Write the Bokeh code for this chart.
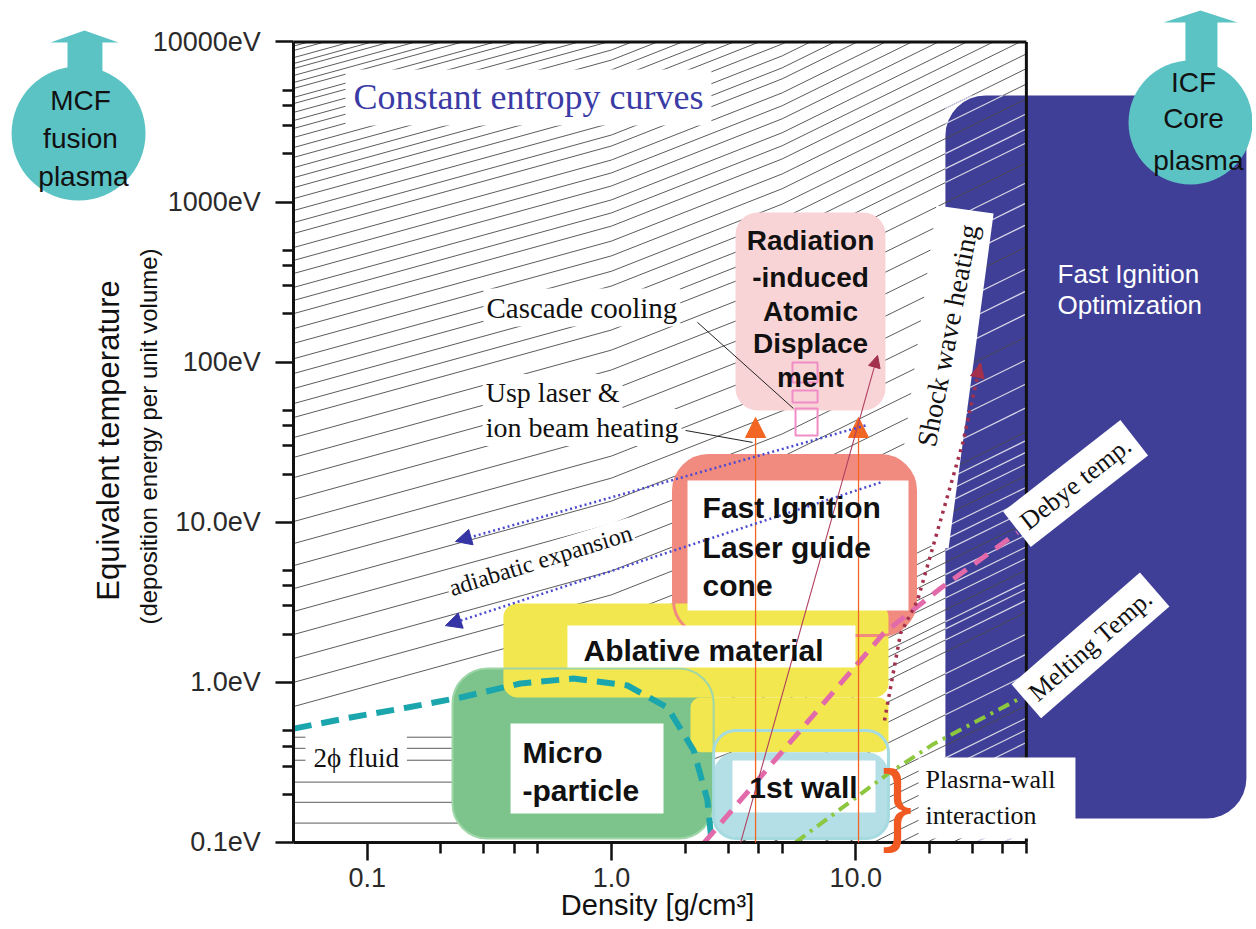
import math
from bokeh.plotting import figure
from bokeh.models import FixedTicker, Label, Arrow, NormalHead, Range1d
from bokeh.embed import file_html
from bokeh.resources import INLINE

# ---------------- data (density in g/cm^3, temperature in eV) ----------------
density_major = [0.1, 1.0, 10.0]
density_minor = [0.2, 0.3, 0.4, 0.5, 2.0, 3.0, 4.0, 5.0, 20.0, 30.0, 40.0, 50.0]
density_tick_labels = ["0.1", "1.0", "10.0"]
temp_major = [0.1, 1.0, 10.0, 100.0, 1000.0, 10000.0]
temp_minor = [0.2, 0.3, 0.4, 0.5, 2.0, 3.0, 4.0, 5.0, 20.0, 30.0, 40.0, 50.0,
              200.0, 300.0, 400.0, 500.0, 2000.0, 3000.0, 4000.0, 5000.0]
temp_tick_labels = ["0.1eV", "1.0eV", "10.0eV", "100eV", "1000eV", "10000eV"]
density_bounds = (0.05, 50.0)
temp_bounds = (0.1, 10000.0)

# constant entropy curves: temperature where each curve meets the left edge (0.05 g/cc)
entropy_T_left = [9420, 8840, 7980, 7330, 6820, 6170, 5580, 5120, 4500, 4120, 3630, 3230,
                  2880, 2530, 2190, 1900, 1640, 1420, 1230, 1050, 885, 745, 636, 520, 432,
                  358, 293, 243, 201, 162, 131, 105, 84.9, 68.4, 55.1, 45.1, 33.8, 25.4,
                  19.0, 13.9, 10.1, 7.36, 5.36, 3.85, 2.77, 1.99, 1.41, 1.00, 0.706]
# curves that are flat inside the two-phase dome
entropy_T_two_phase = [0.454, 0.387, 0.326, 0.238, 0.178, 0.132, 0.085, 0.071,
                       0.060, 0.050, 0.042, 0.035, 0.029, 0.024, 0.020, 0.017, 0.014]
# curves leaving the liquid side (temperature at 1.2 g/cc)
entropy_T_liquid = [0.32, 0.38, 0.45, 0.53, 0.63, 0.75, 0.89, 1.05, 1.25, 1.48, 1.75, 2.07, 2.45]
entropy_slopes = [0.42, 0.60, 0.75]
entropy_rho_breaks = [1.0, 5.0]
two_phase_rho_edge = 2.55
liquid_rho_start = 1.2

# regime boxes: (rho_left, rho_right, T_bottom, T_top)
core_region = (23.3, 398.0, 0.141, 4625.0)
radiation_region = (3.22, 13.24, 49.9, 860.0)
cone_region = (1.794, 17.58, 1.96, 26.1)
cone_window = (2.048, 16.45, 2.81, 18.2)
micro_region = (0.2233, 2.62, 0.1058, 1.22)
ablative_main = (0.361, 13.62, 0.804, 3.11)
ablative_side = (2.106, 13.62, 0.366, 0.804)
wall_outline = (2.62, 13.62, 0.1058, 0.500)
wall_fill = (2.62, 13.62, 0.1058, 0.366)
ablative_window = (0.660, 9.98, 1.237, 2.26)
micro_window = (0.386, 1.633, 0.1516, 0.553)
wall_window = (3.13, 12.05, 0.1537, 0.325)
plasma_wall_window = (18.1, 79.4, 0.1058, 0.339)
cascade_boxes = [(5.51, 6.98, 74.6, 99.4), (5.51, 6.98, 55.9, 66.5), (5.67, 6.98, 34.8, 51.3)]
shock_window_rho = [21.4, 36.7, 24.0, 14.0]
shock_window_T = [951.0, 848.0, 6.85, 7.69]

# boundary curves
two_phase_rho = [0.05, 0.0853, 0.146, 0.241, 0.424, 0.699, 1.163, 1.696, 2.17, 2.47, 2.57]
two_phase_T = [0.514, 0.603, 0.696, 0.804, 0.983, 1.056, 0.955, 0.696, 0.375, 0.184, 0.1]
debye_rho = [2.40, 13.0, 22.2, 46.0]
debye_T = [0.1, 2.02, 3.85, 8.62]
melting_rho = [5.67, 13.5, 20.8, 47.3]
melting_T = [0.1, 0.267, 0.411, 0.797]
shock_rho = [13.12, 15.26, 17.91, 27.4, 32.4]
shock_T = [0.577, 2.02, 3.24, 31.0, 98.0]
adiabat_upper_rho = [10.97, 0.2297]
adiabat_upper_T = [40.2, 7.58]
adiabat_lower_rho = [12.63, 0.209]
adiabat_lower_T = [17.7, 2.26]
laser_rho = [3.89, 10.27]
laser_T = [0.1, 45.1]
cascade_rho = [3.38, 12.29]
cascade_T = [0.1, 110.0]
cascade_leader_rho = [2.25, 5.56]
cascade_leader_T = [177.0, 51.3]
ion_leader_rho = [2.01, 3.78]
ion_leader_T = [37.4, 31.5]
mcf_arrow_rho = [0.00592, 0.00592, 0.00504, 0.00695, 0.00958, 0.00823, 0.00823]
mcf_arrow_T = [5740, 9910, 9910, 11780, 9910, 9910, 5740]
icf_arrow_rho = [224, 224, 182.2, 258, 366, 303, 303]
icf_arrow_T = [6630, 13200, 13200, 15700, 13200, 13200, 6630]
bulb_rho = [0.00657, 235.0]
bulb_T = [2679.0, 3138.0]

# ---------------- figure ----------------
W, H = 1252, 925
X_ONE, X_DEC = 611.0, 244.2      # canvas pixel of 1 g/cc, pixels per decade
Y_ONE, Y_DEC = 681.8, 160.1      # canvas pixel of 1 eV, pixels per decade
p = figure(width=W, height=H, x_axis_type="log", y_axis_type="log",
           x_range=Range1d(10 ** (-X_ONE / X_DEC), 10 ** ((W - X_ONE) / X_DEC)),
           y_range=Range1d(10 ** ((Y_ONE - H) / Y_DEC), 10 ** (Y_ONE / Y_DEC)),
           output_backend="svg", toolbar_location=None, min_border=0)
p.outline_line_color = None
p.xgrid.visible = False
p.ygrid.visible = False
p.background_fill_color = "white"
p.border_fill_color = "white"

SANS = "Liberation Sans"
SERIF = "Liberation Serif"

xa = p.xaxis[0]
ya = p.yaxis[0]
xa.fixed_location = temp_bounds[0]
ya.fixed_location = density_bounds[0]
xa.bounds = density_bounds
ya.bounds = temp_bounds
xa.ticker = FixedTicker(ticks=density_major, minor_ticks=density_minor)
ya.ticker = FixedTicker(ticks=temp_major, minor_ticks=temp_minor)
xa.major_label_overrides = {v: s for v, s in zip(density_major, density_tick_labels)}
ya.major_label_overrides = {v: s for v, s in zip(temp_major, temp_tick_labels)}
for ax, stand in ((xa, 8), (ya, 15)):
    ax.axis_line_width = 3
    ax.axis_line_color = "#111111"
    ax.major_tick_out = 18
    ax.major_tick_in = 0
    ax.minor_tick_out = 11
    ax.minor_tick_in = 0
    ax.major_tick_line_width = 2.5
    ax.minor_tick_line_width = 2.5
    ax.major_tick_line_color = "#111111"
    ax.minor_tick_line_color = "#111111"
    ax.major_label_text_font = SANS
    ax.major_label_text_font_size = "27px"
    ax.major_label_text_color = "#2a2a2a"
    ax.major_label_standoff = stand


def box(r, **kw):
    p.quad(left=[r[0]], right=[r[1]], bottom=[r[2]], top=[r[3]], **kw)


def rise(r0, r1):
    edges = [1e-9] + entropy_rho_breaks + [1e9]
    tot = 0.0
    for k, s in enumerate(entropy_slopes):
        lo, hi = max(r0, edges[k]), min(r1, edges[k + 1])
        if hi > lo:
            tot += s * (math.log10(hi) - math.log10(lo))
    return tot


def clip(xs, ys, x0, x1, y0, y1):
    L = math.log10
    pts = [(L(a), L(b)) for a, b in zip(xs, ys)]
    bx0, bx1, by0, by1 = L(x0), L(x1), L(y0), L(y1)
    pieces, cur = [], []
    for (ax_, ay_), (bx_, by_) in zip(pts[:-1], pts[1:]):
        t0, t1 = 0.0, 1.0
        dx, dy = bx_ - ax_, by_ - ay_
        ok = True
        for pp, qq in ((-dx, ax_ - bx0), (dx, bx1 - ax_), (-dy, ay_ - by0), (dy, by1 - ay_)):
            if pp == 0:
                if qq < 0:
                    ok = False
                    break
            else:
                r = qq / pp
                if pp < 0:
                    t0 = max(t0, r)
                else:
                    t1 = min(t1, r)
        if not ok or t0 > t1:
            if cur:
                pieces.append(cur)
                cur = []
            continue
        s = (ax_ + t0 * dx, ay_ + t0 * dy)
        e = (ax_ + t1 * dx, ay_ + t1 * dy)
        if cur and abs(cur[-1][0] - s[0]) < 1e-9 and abs(cur[-1][1] - s[1]) < 1e-9:
            cur.append(e)
        else:
            if cur:
                pieces.append(cur)
            cur = [s, e]
    if cur:
        pieces.append(cur)
    return [([10 ** q[0] for q in pc], [10 ** q[1] for q in pc]) for pc in pieces]


# isentropes
curves = []
for T0 in entropy_T_left:
    rr = [density_bounds[0], entropy_rho_breaks[0], entropy_rho_breaks[1], density_bounds[1]]
    curves.append((rr, [T0 * 10 ** rise(rr[0], r) for r in rr]))
for T0 in entropy_T_two_phase:
    rr = [density_bounds[0], two_phase_rho_edge, entropy_rho_breaks[1], density_bounds[1]]
    curves.append((rr, [T0, T0] + [T0 * 10 ** rise(two_phase_rho_edge, r) for r in rr[2:]]))
for T0 in entropy_T_liquid:
    rr = [liquid_rho_start, entropy_rho_breaks[1], density_bounds[1]]
    curves.append((rr, [T0 * 10 ** rise(liquid_rho_start, r) for r in rr]))
curves.sort(key=lambda c: -c[1][-1])

ent_x, ent_y, wh_x, wh_y = [], [], [], []
for k, (rr, tt) in enumerate(curves):
    for cx, cy in clip(rr, tt, density_bounds[0], density_bounds[1], temp_bounds[0], temp_bounds[1]):
        ent_x.append(cx)
        ent_y.append(cy)
    if k % 4 != 0:
        for cx, cy in clip(rr, tt, core_region[0], density_bounds[1], temp_bounds[0], core_region[3]):
            wh_x.append(cx)
            wh_y.append(cy)

# ---------------- drawing ----------------
BLUE = "#403f98"
TEAL = "#5cc3c5"
box(core_region, fill_color=BLUE, line_color=None, border_radius=40)
p.multi_line(ent_x, ent_y, line_color="#4a4a4a", line_width=0.9)
p.multi_line(wh_x, wh_y, line_color="#d6d6f0", line_width=1.2)
p.line([density_bounds[0], density_bounds[1]], [temp_bounds[1], temp_bounds[1]], line_color="#111111", line_width=3)
p.line([density_bounds[1], density_bounds[1]], [temp_bounds[0], temp_bounds[1]], line_color="#111111", line_width=3)
p.patch(shock_window_rho, shock_window_T, fill_color="white", line_color=None)

box(radiation_region, fill_color="#f9d4d7", line_color=None, border_radius=22)
box(cone_region, fill_color="#f18b80", line_color=None, border_radius=35)
box(micro_region, fill_color="#7cc48b", line_color=None, border_radius=35)
box(ablative_main, fill_color="#f2e74e", line_color=None, border_radius=14)
box(ablative_side, fill_color="#f2e74e", line_color=None, border_radius=10)
box(cone_window, fill_color="white", line_color=None)
box(wall_fill, fill_color="#b4dfe6", line_color=None, border_radius=22)
box(cone_region, fill_color=None, line_color="#f18b80", line_width=3, border_radius=35)
box(micro_region, fill_color=None, line_color="#9ed6a8", line_width=2, border_radius=35)
box(wall_outline, fill_color=None, line_color="#a5dbe0", line_width=3, border_radius=22)
box(ablative_window, fill_color="white", line_color=None)
box(micro_window, fill_color="white", line_color=None)
box(wall_window, fill_color="white", line_color=None)
for cb in cascade_boxes:
    box(cb, fill_color=None, line_color="#f08cc6", line_width=2)
box(plasma_wall_window, fill_color="white", line_color=None)

p.line(two_phase_rho, two_phase_T, line_color="#1ba6ad", line_width=6, line_dash="18 10")
p.line(debye_rho, debye_T, line_color="#e36aaa", line_width=5, line_dash="16 10")
p.line(melting_rho, melting_T, line_color="#8dc63f", line_width=4, line_dash="12 6 3 6")
p.line(shock_rho, shock_T, line_color="#a3304c", line_width=3.5, line_dash="3 5")
p.line(cascade_leader_rho, cascade_leader_T, line_color="#222222", line_width=1)
p.line(ion_leader_rho, ion_leader_T, line_color="#222222", line_width=1)

# bulbs
p.patch(mcf_arrow_rho, mcf_arrow_T, fill_color=TEAL, line_color=None)
p.patch(icf_arrow_rho, icf_arrow_T, fill_color=TEAL, line_color=None)
p.scatter(bulb_rho[:1], bulb_T[:1], size=134, marker="circle", fill_color=TEAL, line_color=None)
p.scatter(bulb_rho[1:], bulb_T[1:], size=124, marker="circle", fill_color=TEAL, line_color=None)

# arrows
for rx in laser_rho:
    p.add_layout(Arrow(end=NormalHead(size=20, fill_color="#f26522", line_color="#f26522"),
                       x_start=rx, y_start=laser_T[0], x_end=rx, y_end=laser_T[1],
                       line_color="#f26522", line_width=1.3))
p.add_layout(Arrow(end=NormalHead(size=12, fill_color="#a3304c", line_color="#a3304c"),
                   x_start=cascade_rho[0], y_start=cascade_T[0], x_end=cascade_rho[1], y_end=cascade_T[1],
                   line_color="#b04060", line_width=1.1))
p.add_layout(Arrow(end=NormalHead(size=14, fill_color="#a3304c", line_color="#a3304c"),
                   x_start=shock_rho[-2], y_start=shock_T[-2], x_end=shock_rho[-1], y_end=shock_T[-1],
                   line_alpha=0))
for rr, tt in ((adiabat_upper_rho, adiabat_upper_T), (adiabat_lower_rho, adiabat_lower_T)):
    p.add_layout(Arrow(end=NormalHead(size=16, fill_color="#3434a4", line_color="#3434a4"),
                       x_start=rr[0], y_start=tt[0], x_end=rr[1], y_end=tt[1],
                       line_color="#4a4ad0", line_width=2.5, line_dash="2 3"))


def lab(x, y, text, size, font=SANS, style="normal", color="#111111", align="left",
        baseline="middle", angle=0.0, bg=None, pad=0):
    kw = dict(x=x, y=y, text=text, text_font=font, text_font_size=f"{size}px",
              text_font_style=style, text_color=color, text_align=align,
              text_baseline=baseline, angle=angle)
    if bg:
        kw.update(background_fill_color=bg, padding=pad)
    p.add_layout(Label(**kw))


# axis titles
lab(0.00871, 32.4, "Equivalent temperature", 31, align="center", angle=math.pi / 2)
lab(0.0127, 34.3, "(deposition energy per unit volume)", 24, align="center", angle=math.pi / 2)
lab(1.543, 0.0404, "Density [g/cm³]", 29, align="center")

# annotations
lab(0.0814, 4497, "Constant entropy curves", 36, font=SERIF, color="#3b3ba6", bg="white", pad=8)
lab(0.299, 219, "Cascade cooling", 29, font=SERIF, bg="white", pad=3)
lab(0.297, 64.6, "Usp laser &", 28, font=SERIF, bg="white", pad=3)
lab(0.297, 39.0, "ion beam heating", 28, font=SERIF, bg="white", pad=3)
lab(0.512, 5.77, "adiabatic expansion", 24, font=SERIF, align="center", angle=0.30, bg="white", pad=2)
lab(0.0558, 0.339, "2ϕ fluid", 27, font=SERIF, bg="white", pad=8)
for t, ty in zip(["Radiation", "-induced", "Atomic", "Displace", "ment"], [574, 337, 207, 131, 80.1]):
    lab(6.53, ty, t, 28, style="bold", align="center")
for t, ty in zip(["Fast Ignition", "Laser guide", "cone"], [12.35, 6.94, 4.02]):
    lab(2.36, ty, t, 30, style="bold")
lab(0.768, 1.58, "Ablative material", 30, style="bold")
lab(0.432, 0.366, "Micro", 30, style="bold")
lab(0.432, 0.211, "-particle", 30, style="bold")
lab(6.11, 0.220, "1st wall", 30, style="bold", align="center")
lab(23.8, 146.6, "Shock wave heating", 28, font=SERIF, align="center", angle=1.38)
lab(79.5, 17.45, "Debye temp.", 26, font=SERIF, align="center", angle=0.663, bg="white", pad=8)
lab(91.5, 1.70, "Melting Temp.", 26, font=SERIF, align="center", angle=0.716, bg="white", pad=8)
lab(19.3, 0.247, "Plasrna-wall", 26, font=SERIF)
lab(19.3, 0.147, "interaction", 26, font=SERIF)
lab(14.8, 0.176, "}", 90, color="#f05a22", align="center")
lab(67.1, 357.6, "Fast Ignition", 26, color="white")
lab(67.1, 225.7, "Optimization", 26, color="white")
lab(0.00669, 4301, "MCF", 28, align="center")
lab(0.00669, 2493, "fusion", 28, align="center")
lab(0.00688, 1443, "plasma", 28, align="center")
lab(241.7, 5577, "ICF", 28, align="center")
lab(241.7, 3322, "Core", 28, align="center")
lab(253.0, 1816, "plasma", 28, align="center")

open("out.html", "w").write(file_html(p, INLINE))
